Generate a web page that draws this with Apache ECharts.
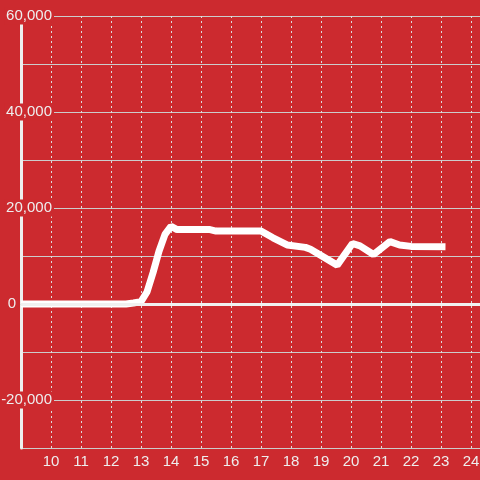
<!DOCTYPE html>
<html>
<head>
<meta charset="utf-8">
<script src="https://cdn.jsdelivr.net/npm/echarts@6/dist/echarts.min.js"></script>
<style>html,body{margin:0;padding:0;background:#cc2a2f;}#c{width:480px;height:480px;}</style>
</head>
<body>
<div id="c"></div>
<script>
// hour of day
var hours = [9, 12.5, 12.75, 13.0, 13.2, 13.4, 13.6, 13.8, 14.0, 14.2, 15.3, 15.5, 17.0, 17.4, 17.87, 18.48, 18.65, 19.54, 20.05, 20.3, 20.75, 21.3, 21.62, 22.0, 23.15];
var values = [0, 0, 200, 500, 2500, 6500, 11000, 14500, 16200, 15500, 15500, 15200, 15200, 13800, 12300, 11800, 11400, 8100, 12600, 12100, 10300, 13000, 12300, 12000, 11950];
var yTickLabels = [-20000, 0, 20000, 40000, 60000];
var xTickLabels = [10, 11, 12, 13, 14, 15, 16, 17, 18, 19, 20, 21, 22, 23, 24];

var bg = '#cc2a2f';
var textColor = '#eeeeee';
var font = 'Liberation Sans';

var data = hours.map(function (h, i) { return [h, values[i]]; });

var chart = echarts.init(document.getElementById('c'), null, {renderer: 'canvas'});
chart.setOption({
  backgroundColor: bg,
  animation: false,
  grid: {left: 21, right: 0, top: 16, bottom: 32, containLabel: false, outerBoundsMode: 'none'},
  xAxis: {
    type: 'value',
    min: 9, max: 24.3, interval: 1,
    axisLine: {show: true, lineStyle: {color: '#cccccc', width: 1}},
    axisTick: {show: false},
    splitLine: {show: true, lineStyle: {color: '#dddddd', width: 1, type: [2, 3]}},
    axisLabel: {
      color: textColor, fontFamily: font, fontSize: 15, margin: 6,
      showMinLabel: false, showMaxLabel: false,
      formatter: function (v) { return xTickLabels.indexOf(v) >= 0 ? String(v) : ''; }
    }
  },
  yAxis: {
    type: 'value',
    min: -30000, max: 60000, interval: 10000,
    axisLine: {show: true, onZero: false, lineStyle: {color: '#eeeeee', width: 3}},
    axisTick: {show: false},
    splitLine: {show: true, lineStyle: {color: '#cccccc', width: 1}},
    axisLabel: {
      align: 'right', margin: -33, color: textColor, fontFamily: font, fontSize: 15,
      formatter: function (v) {
        if (yTickLabels.indexOf(v) < 0) return '';
        if (v === 0) return '{z|0}';
        return '{n|' + v.toLocaleString('en-US') + '}';
      },
      rich: {
        n: {backgroundColor: bg, padding: [1, 2, 1, 2], color: textColor, fontFamily: font, fontSize: 15, lineHeight: 15},
        z: {padding: [0, 38, 0, 0], color: textColor, fontFamily: font, fontSize: 15, lineHeight: 15}
      }
    }
  },
  series: [{
    type: 'line',
    data: data,
    showSymbol: false,
    lineStyle: {color: '#ffffff', width: 7},
    markLine: {
      silent: true,
      symbol: 'none',
      label: {show: false},
      lineStyle: {color: '#f0f0f0', width: 3, type: 'solid'},
      data: [{yAxis: 0}]
    },
    z: 3
  }]
});
</script>
</body>
</html>
